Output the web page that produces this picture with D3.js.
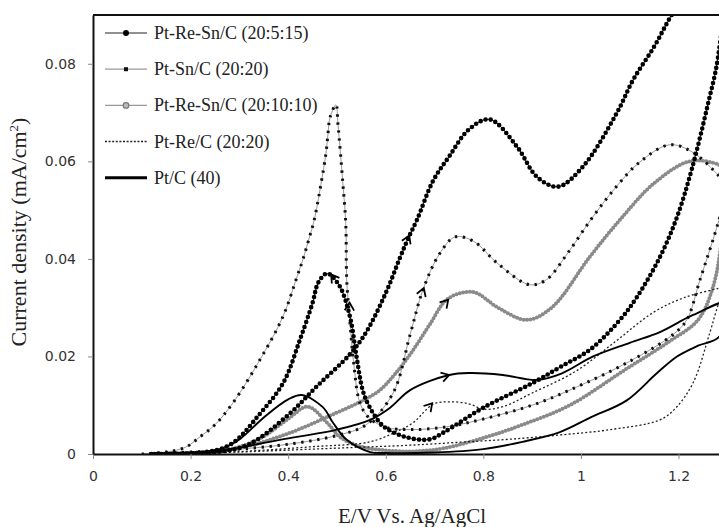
<!DOCTYPE html>
<html>
<head>
<meta charset="utf-8">
<script src="https://cdnjs.cloudflare.com/ajax/libs/d3/7.8.5/d3.min.js"></script>
<style>
body{margin:0;background:#fff}
svg{display:block}
</style>
</head>
<body>
<svg></svg>
<script>
// values: [E (V vs Ag/AgCl), current density (mA/cm2)], forward scan then reverse
var ptReSn_5_15 = [
 [0.12,0],[0.26,0.0005],[0.32,0.002],[0.40,0.008],[0.46,0.014],[0.527,0.0205],[0.56,0.025],[0.60,0.033],
 [0.629,0.0402],[0.645,0.044],[0.664,0.048],[0.697,0.056],[0.73,0.061],[0.77,0.0665],[0.813,0.0686],
 [0.869,0.063],[0.91,0.0568],[0.953,0.0548],[1.004,0.0589],[1.074,0.070],[1.107,0.0767],[1.15,0.0835],
 [1.186,0.090],[1.24,0.098],[1.30,0.106],
 [1.281,0.0814],[1.26,0.0716],[1.227,0.0583],[1.197,0.0486],[1.162,0.0404],[1.115,0.0322],[1.08,0.0275],
 [1.02,0.0215],[0.957,0.0178],[0.90,0.0145],[0.80,0.0095],[0.72,0.0045],[0.69,0.003],[0.64,0.0035],
 [0.594,0.0058],[0.565,0.010],[0.553,0.013],[0.54,0.020],[0.527,0.028],[0.505,0.0345],[0.48,0.037],
 [0.462,0.0352],[0.45,0.031],[0.424,0.0234],[0.39,0.0146],[0.34,0.008],[0.287,0.0023],[0.24,0.0005],[0.12,0]
];
var ptSn_20_20 = [
 [0.10,0],[0.20,0.0004],[0.30,0.001],[0.40,0.002],[0.50,0.0038],[0.56,0.006],[0.615,0.0125],[0.65,0.0245],
 [0.676,0.0336],[0.71,0.041],[0.742,0.0445],[0.78,0.0436],[0.83,0.039],[0.895,0.0347],[0.93,0.0358],
 [0.973,0.0412],[1.02,0.048],[1.07,0.0545],[1.12,0.0598],[1.182,0.0634],[1.23,0.0618],[1.283,0.057],[1.30,0.055],
 [1.283,0.048],[1.244,0.0357],[1.217,0.0275],[1.189,0.0245],[1.10,0.019],[0.977,0.0131],[0.90,0.010],
 [0.793,0.007],[0.72,0.0055],[0.65,0.005],[0.60,0.0055],[0.565,0.0075],[0.547,0.0105],[0.535,0.018],
 [0.525,0.029],[0.520,0.0357],[0.518,0.0474],[0.512,0.0556],[0.502,0.0677],[0.498,0.0716],[0.486,0.0691],
 [0.4816,0.0656],[0.4775,0.0617],[0.467,0.0552],[0.453,0.0478],[0.4426,0.0441],[0.43,0.0398],[0.418,0.0363],
 [0.389,0.0281],[0.342,0.0193],[0.287,0.0105],[0.25,0.006],[0.219,0.0035],[0.19,0.0014],[0.15,0.0004],[0.10,0]
];
var ptReSn_10_10 = [
 [0.15,0],[0.25,0.0005],[0.30,0.0012],[0.40,0.0042],[0.50,0.0085],[0.55,0.0108],[0.588,0.0131],[0.62,0.0165],
 [0.656,0.0213],[0.69,0.0265],[0.727,0.0318],[0.779,0.0332],[0.83,0.030],[0.889,0.0275],[0.94,0.030],
 [1.018,0.0404],[1.08,0.048],[1.15,0.0555],[1.223,0.060],[1.283,0.0593],[1.30,0.058],
 [1.29,0.045],[1.27,0.034],[1.24,0.0275],[1.18,0.023],[1.094,0.0175],[0.977,0.010],[0.88,0.006],
 [0.807,0.0035],[0.72,0.0012],[0.67,0.0006],[0.62,0.0006],[0.55,0.0015],[0.506,0.0035],[0.48,0.0064],
 [0.44,0.0097],[0.40,0.0072],[0.348,0.0035],[0.30,0.0015],[0.25,0.0005],[0.15,0]
];
var ptRe_20_20 = [
 [0.15,0],[0.30,0.0005],[0.45,0.0015],[0.568,0.0025],[0.62,0.0045],[0.656,0.0064],[0.697,0.0102],
 [0.73,0.0107],[0.77,0.0103],[0.80,0.0092],[0.84,0.0097],[0.90,0.0125],[0.99,0.017],[1.07,0.023],
 [1.148,0.029],[1.21,0.032],[1.283,0.034],[1.30,0.0345],
 [1.283,0.031],[1.264,0.0248],[1.23,0.0146],[1.195,0.0095],[1.162,0.007],[1.06,0.005],[0.957,0.0039],
 [0.85,0.003],[0.75,0.0024],[0.65,0.0018],[0.55,0.0014],[0.45,0.001],[0.30,0.0004],[0.15,0]
];
var ptC_40 = [
 [0.15,0],[0.25,0.0005],[0.383,0.0029],[0.50,0.005],[0.568,0.007],[0.609,0.0095],[0.65,0.0131],
 [0.73,0.0162],[0.773,0.0166],[0.84,0.0162],[0.91,0.0152],[0.96,0.0165],[1.025,0.020],[1.10,0.0228],
 [1.162,0.025],[1.23,0.0285],[1.30,0.031],
 [1.283,0.024],[1.24,0.0222],[1.197,0.020],[1.156,0.0166],[1.094,0.011],[1.02,0.0075],[0.957,0.0045],
 [0.88,0.0025],[0.80,0.001],[0.70,0.0003],[0.60,0.0002],[0.568,0.0004],[0.52,0.0029],[0.492,0.0064],
 [0.471,0.0096],[0.428,0.0121],[0.40,0.0112],[0.35,0.0075],[0.30,0.003],[0.26,0.001],[0.15,0]
];

var seriesNames = ["Pt-Re-Sn/C (20:5:15)", "Pt-Sn/C (20:20)", "Pt-Re-Sn/C (20:10:10)", "Pt-Re/C (20:20)", "Pt/C (40)"];
var seriesData = [ptReSn_5_15, ptSn_20_20, ptReSn_10_10, ptRe_20_20, ptC_40];

// scan-direction arrow heads: tip point and a point behind it on the curve, in data units
var arrowFrom = [[0.63,0.0405],[0.505,0.0345],[0.66,0.029],[0.523,0.022],[0.70,0.0285],[0.67,0.0075],[0.69,0.0150]];
var arrowTo   = [[0.648,0.0448],[0.488,0.0368],[0.678,0.034],[0.526,0.031],[0.728,0.0316],[0.695,0.0104],[0.73,0.0162]];

var xTicks = [0, 0.2, 0.4, 0.6, 0.8, 1, 1.2];
var yTicks = [0, 0.02, 0.04, 0.06, 0.08];

var screen = {width: 719, height: 527};
var plot = {left: 93, top: 15, right: 719, bottom: 454};
var serif = "'Liberation Serif', 'Times New Roman', serif";

var svg = d3.select("svg")
 .attr("width", screen.width)
 .attr("height", screen.height);

var xScale = d3.scaleLinear()
 .domain([0, 1.283])
 .range([plot.left, plot.right]);

var yScale = d3.scaleLinear()
 .domain([0, 0.09])
 .range([plot.bottom, plot.top]);

svg.append("defs").append("clipPath")
 .attr("id", "clip")
 .append("rect")
 .attr("x", plot.left)
 .attr("y", plot.top)
 .attr("width", plot.right - plot.left + 5)
 .attr("height", plot.bottom - plot.top);

var line = d3.line()
 .x(function(d){ return xScale(d[0]); })
 .y(function(d){ return yScale(d[1]); })
 .curve(d3.curveCatmullRom.alpha(0.5));

var curves = svg.append("g").attr("clip-path", "url(#clip)");

// each series: a base line and an optional marker stroke
var styles = [
 {base: {stroke: "#222", width: 1}, marks: {stroke: "#000", width: 4.6, dash: "0 5.2", cap: "round"}},
 {base: {stroke: "#9a9a9a", width: 1}, marks: {stroke: "#111", width: 3, dash: "2.4 5.6", cap: "butt"}},
 {base: {stroke: "#999", width: 1}, marks: {stroke: "#8a8a8a", width: 4, dash: "0 3.4", cap: "round"}},
 {base: {stroke: "#222", width: 1.3, dash: "2 2.2"}, marks: null},
 {base: {stroke: "#000", width: 1.9}, marks: null}
];

// draw the lighter ones first
[2, 1, 3, 4, 0].forEach(function(i){
 var st = styles[i];
 curves.append("path")
  .datum(seriesData[i])
  .attr("d", line)
  .attr("fill", "none")
  .attr("stroke", st.base.stroke)
  .attr("stroke-width", st.base.width)
  .attr("stroke-dasharray", st.base.dash || null);
 if (st.marks) {
  curves.append("path")
   .datum(seriesData[i])
   .attr("d", line)
   .attr("fill", "none")
   .attr("stroke", st.marks.stroke)
   .attr("stroke-width", st.marks.width)
   .attr("stroke-dasharray", st.marks.dash)
   .attr("stroke-linecap", st.marks.cap);
 }
});

// arrow heads (open chevrons)
arrowTo.forEach(function(t, i){
 var f = arrowFrom[i];
 var x1 = xScale(f[0]), y1 = yScale(f[1]), x2 = xScale(t[0]), y2 = yScale(t[1]);
 var a = Math.atan2(y2 - y1, x2 - x1);
 var s = 9;
 var p1 = [x2 - s*Math.cos(a - 0.55), y2 - s*Math.sin(a - 0.55)];
 var p2 = [x2 - s*Math.cos(a + 0.55), y2 - s*Math.sin(a + 0.55)];
 svg.append("path")
  .attr("d", "M" + p1 + "L" + x2 + "," + y2 + "L" + p2)
  .attr("fill", "none")
  .attr("stroke", "#000")
  .attr("stroke-width", 1.8);
});

// axes
var xAxis = d3.axisBottom(xScale)
 .tickValues(xTicks)
 .tickSize(5)
 .tickSizeOuter(0)
 .tickPadding(12)
 .tickFormat(function(d){ return d === 0 ? "0" : d3.format("~g")(d); });

var yAxis = d3.axisLeft(yScale)
 .tickValues(yTicks)
 .tickSize(5)
 .tickSizeOuter(0)
 .tickPadding(12)
 .tickFormat(function(d){ return d === 0 ? "0" : d.toFixed(2); });

var gx = svg.append("g")
 .attr("transform", "translate(0," + plot.bottom + ")")
 .call(xAxis);
var gy = svg.append("g")
 .attr("transform", "translate(" + plot.left + ",0)")
 .call(yAxis);

[gx, gy].forEach(function(g){
 g.select(".domain").attr("stroke", "#111").attr("stroke-width", 2);
 g.selectAll(".tick line").attr("stroke", "#888");
 g.selectAll(".tick text")
  .attr("fill", "#333")
  .style("font-family", "'DejaVu Sans', sans-serif")
  .style("font-size", "14px");
});

// top frame line
svg.append("line")
 .attr("x1", plot.left).attr("x2", plot.right)
 .attr("y1", plot.top).attr("y2", plot.top)
 .attr("stroke", "#111").attr("stroke-width", 2);

// axis titles
svg.append("text")
 .attr("x", 412).attr("y", 523)
 .attr("text-anchor", "middle")
 .style("font-family", serif)
 .style("font-size", "21px")
 .attr("fill", "#222")
 .text("E/V  Vs. Ag/AgCl");

var yTitle = svg.append("text")
 .attr("transform", "translate(26,232) rotate(-90)")
 .attr("text-anchor", "middle")
 .style("font-family", serif)
 .style("font-size", "22px")
 .attr("fill", "#222");
yTitle.append("tspan").text("Current density (mA/cm");
yTitle.append("tspan").attr("dy", -8).style("font-size", "13px").text("2");
yTitle.append("tspan").attr("dy", 8).text(")");

// legend
var legend = svg.append("g");
seriesNames.forEach(function(name, i){
 var yy = 33 + i * 36.2;
 var st = styles[i];
 var g = legend.append("g");
 g.append("line")
  .attr("x1", 105).attr("x2", 147)
  .attr("y1", yy).attr("y2", yy)
  .attr("stroke", i === 4 ? "#000" : st.base.stroke)
  .attr("stroke-width", i === 4 ? 3 : (i === 3 ? 1.5 : 1.2))
  .attr("stroke-dasharray", i === 3 ? "2 1.6" : null);
 if (i === 0) {
  g.append("circle").attr("cx", 126).attr("cy", yy).attr("r", 3).attr("fill", "#000");
 } else if (i === 1) {
  g.append("rect").attr("x", 124).attr("y", yy - 2).attr("width", 4).attr("height", 4).attr("fill", "#111");
 } else if (i === 2) {
  g.append("circle").attr("cx", 126).attr("cy", yy).attr("r", 2.8)
   .attr("fill", "#bbb").attr("stroke", "#777").attr("stroke-width", 1.2);
 }
 g.append("text")
  .attr("x", 154).attr("y", yy + 6)
  .style("font-family", serif)
  .style("font-size", "18px")
  .attr("fill", "#222")
  .text(name);
});
</script>
</body>
</html>
